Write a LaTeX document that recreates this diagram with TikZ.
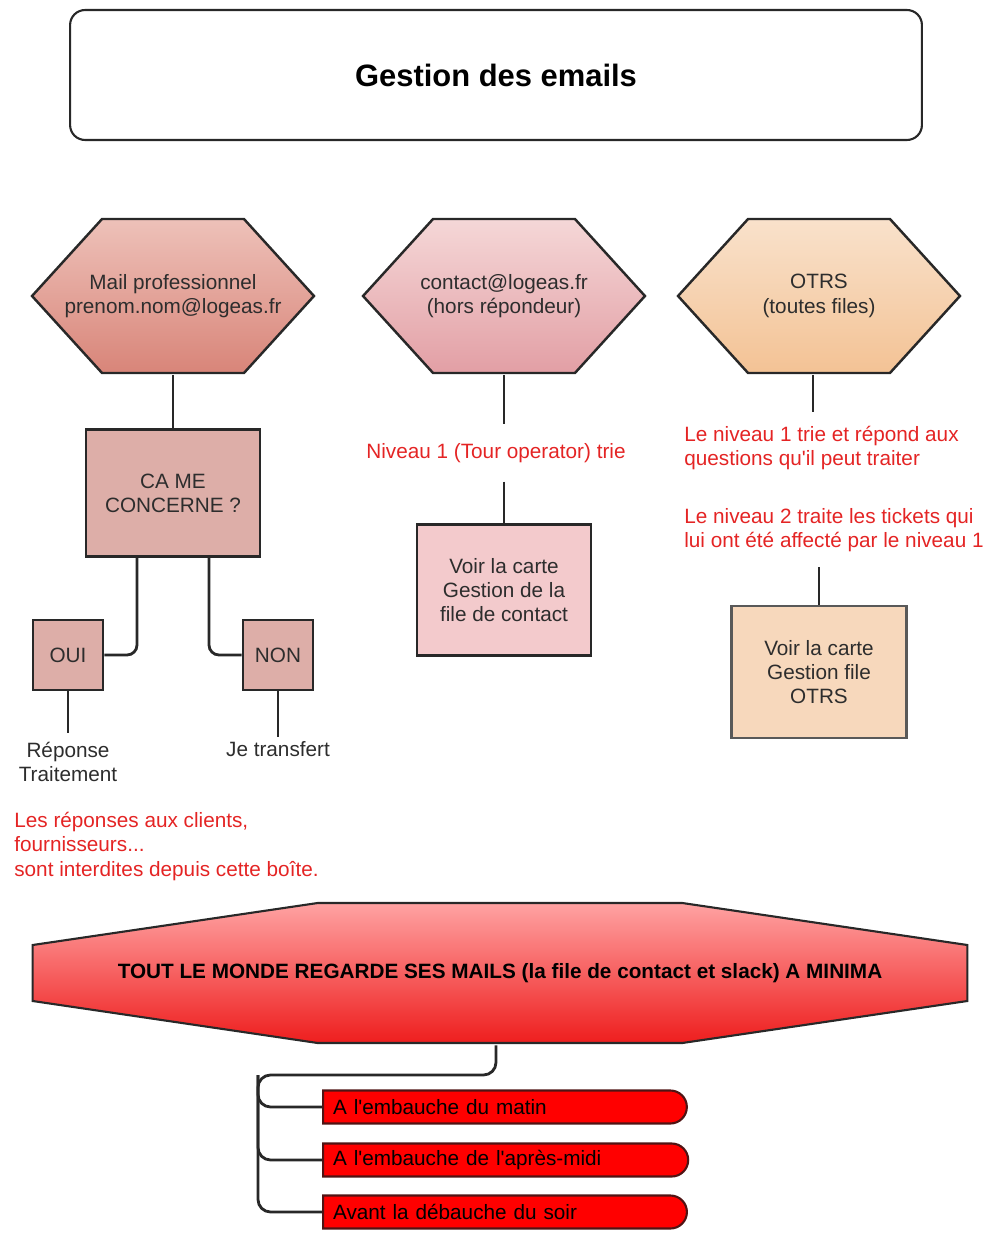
\documentclass[tikz,border=0pt]{standalone}
\usepackage{fontspec}
\setmainfont{Liberation Sans}
\usepackage{tikz}
\usetikzlibrary{shapes.misc,positioning,calc}

\definecolor{edge}{RGB}{40,40,40}
\definecolor{ink}{RGB}{45,45,45}
\definecolor{alert}{RGB}{228,36,36}
\definecolor{hexAtop}{RGB}{238,194,186}
\definecolor{hexAbot}{RGB}{216,132,120}
\definecolor{hexBtop}{RGB}{245,216,216}
\definecolor{hexBbot}{RGB}{226,158,164}
\definecolor{hexCtop}{RGB}{249,226,204}
\definecolor{hexCbot}{RGB}{243,194,148}
\definecolor{cardA}{RGB}{221,174,168}
\definecolor{cardB}{RGB}{243,202,204}
\definecolor{cardC}{RGB}{247,216,188}
\definecolor{octoTop}{RGB}{255,164,164}
\definecolor{octoBot}{RGB}{238,28,28}
\definecolor{barRed}{RGB}{255,0,0}
\definecolor{barEdge}{RGB}{80,20,20}

\begin{document}
\begin{tikzpicture}[
    x=0.02cm, y=-0.02cm,
    font=\fontsize{11.8}{13.8}\selectfont,
    titlebox/.style = {rectangle, rounded corners=0.3cm, draw=edge, line width=1.2pt, minimum width=17.04cm, minimum height=2.6cm, font=\fontsize{17.6}{20}\selectfont\bfseries},
    hexa/.style 2 args = {rectangle, minimum width=5.72cm, minimum height=3.16cm, text=ink, align=center,
        path picture={\draw[draw=edge, line width=1.4pt, top color=#1, bottom color=#2]
            ($(path picture bounding box.west)+(2,0)$) -- ($(path picture bounding box.north west)+(72,2)$)
            -- ($(path picture bounding box.north east)+(-72,2)$) -- ($(path picture bounding box.east)+(-2,0)$)
            -- ($(path picture bounding box.south east)+(-72,-2)$) -- ($(path picture bounding box.south west)+(72,-2)$) -- cycle;}},
    card/.style = {rectangle, draw=edge, line width=1.5pt, text=ink, align=center},
    note/.style = {text=alert, align=left, inner xsep=0pt},
    plain/.style = {text=ink, align=center},
    octo/.style = {rectangle, minimum width=18.78cm, minimum height=2.88cm, font=\fontsize{11.8}{13.8}\selectfont\bfseries,
        path picture={\draw[draw=edge, line width=1.2pt, top color=octoTop, bottom color=octoBot]
            ($(path picture bounding box.north west)+(2,44)$) -- ($(path picture bounding box.north west)+(287,2)$)
            -- ($(path picture bounding box.north east)+(-287,2)$) -- ($(path picture bounding box.north east)+(-2,44)$)
            -- ($(path picture bounding box.south east)+(-2,-44)$) -- ($(path picture bounding box.south east)+(-287,-2)$)
            -- ($(path picture bounding box.south west)+(287,-2)$) -- ($(path picture bounding box.south west)+(2,-44)$) -- cycle;}},
    bar/.style = {rounded rectangle, rounded rectangle left arc=none, draw=barEdge, line width=1.2pt, fill=barRed, minimum height=0.66cm, text width=6.84cm, align=left, inner xsep=0.2cm, inner ysep=0.1cm, anchor=west},
    link/.style = {draw=edge, line width=1.6pt}
]
    \useasboundingbox (0,0) rectangle (994,1236);

    \node[titlebox] (titre) at (496,75) {Gestion des emails};

    \node[hexa={hexAtop}{hexAbot}] (perso) at (173,296) {Mail professionnel\\prenom.nom@logeas.fr};
    \node[hexa={hexBtop}{hexBbot}] (contact) at (504,296) {contact@logeas.fr\\(hors répondeur)};
    \node[hexa={hexCtop}{hexCbot}] (otrs) at (819,296) {OTRS\\(toutes files)};

    \node[card, fill=cardA, minimum width=3.48cm, minimum height=2.54cm] (concerne) at (173,493) {CA ME\\CONCERNE ?};
    \node[card, fill=cardA, minimum size=1.4cm] (oui) at (68,655) {OUI};
    \node[card, fill=cardA, minimum size=1.4cm] (non) at (278,655) {NON};
    \node[plain, anchor=north, inner ysep=0.18cm] (reponse) at (68,733) {Réponse\\Traitement};
    \node[plain, anchor=north, inner ysep=0.08cm] (transfert) at (278,737) {Je transfert};
    \node[note, anchor=north west, inner ysep=0pt] (interdit) at (14,812) {Les réponses aux clients,\\fournisseurs...\\sont interdites depuis cette boîte.};

    \node[note, inner ysep=0.37cm] (niveau) at (496,453) {Niveau 1 (Tour operator) trie};
    \node[card, fill=cardB, minimum width=3.48cm, minimum height=2.62cm] (carteContact) at (504,590) {Voir la carte\\Gestion de la\\file de contact};

    \node[note, anchor=north west, inner ysep=0.28cm] (trieOtrs) at (684,412) {Le niveau 1 trie et répond aux\\questions qu\textquotesingle il peut traiter};
    \node[note, anchor=south west, inner ysep=0.3cm] (traiteOtrs) at (684,567) {Le niveau 2 traite les tickets qui\\lui ont été affecté par le niveau 1};
    \node[card, fill=cardC, draw=gray!70!black, minimum width=3.5cm, minimum height=2.64cm] (carteOtrs) at (819,672) {Voir la carte\\Gestion file\\OTRS};

    \node[octo] (monde) at (500,973) {TOUT LE MONDE REGARDE SES MAILS (la file de contact et slack) A MINIMA};
    \coordinate (fourche) at (258,1075);
    \node[bar] (matin) at (322,1107) {A l\textquotesingle embauche du matin};
    \node[bar] (midi) at (322,1160) {A l\textquotesingle embauche de l\textquotesingle après-midi};
    \node[bar] (soir) at (322,1212) {Avant la débauche du soir};

    \draw[link] (perso) -- (concerne);
    \draw[link, rounded corners=0.2cm] ([xshift=-0.72cm]concerne.south) |- (oui);
    \draw[link, rounded corners=0.2cm] ([xshift=0.72cm]concerne.south) |- (non);
    \draw[link] (oui) -- (reponse);
    \draw[link] (non) -- (transfert);
    \draw[link] (contact) -- (contact |- niveau.north);
    \draw[link] (niveau.south -| carteContact) -- (carteContact);
    \draw[link] ([xshift=-0.12cm]otrs.south) -- ([xshift=-0.12cm]otrs.south |- trieOtrs.north);
    \draw[link] (traiteOtrs.south -| carteOtrs) -- (carteOtrs);
    \draw[link, rounded corners=0.25cm] ([xshift=-0.08cm]monde.south) |- (fourche) |- (soir);
    \draw[link, rounded corners=0.25cm] (fourche) |- (matin);
    \draw[link, rounded corners=0.25cm] (fourche) |- (midi);
\end{tikzpicture}
\end{document}
